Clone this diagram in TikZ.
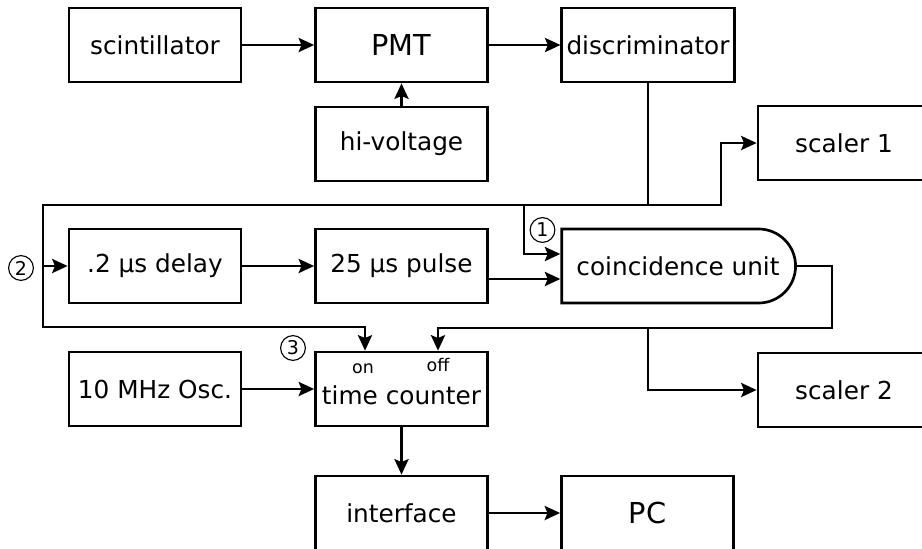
\documentclass[tikz,border=0pt]{standalone}
\usepackage{fontspec}
\setmainfont{DejaVu Sans}
\usetikzlibrary{arrows.meta, shapes.misc, calc}

\tikzset{
  block/.style={rectangle, draw, line width=1.9pt, minimum width=4.3cm, minimum height=1.85cm, font=\fontsize{17.6}{20}\selectfont},
  bigblock/.style={block, font=\fontsize{20.5}{23}\selectfont},
  gate/.style={rounded rectangle, rounded rectangle west arc=none, draw, line width=1.9pt, minimum width=6.08cm, minimum height=1.85cm, font=\fontsize{17.6}{20}\selectfont},
  wire/.style={line width=1.9pt},
  sig/.style={wire, -{Stealth[length=11pt, width=10pt, inset=2pt]}},
  numtag/.style={circle, draw, line width=0.8pt, minimum size=0.62cm, inner sep=0pt, font=\fontsize{13.5}{15}\selectfont},
  pinlabel/.style={font=\fontsize{12.4}{14}\selectfont, anchor=base, inner sep=0pt}
}

\begin{document}
\begin{tikzpicture}[x=0.025cm, y=-0.025cm]
\clip (0,0) rectangle (922,548);
% Blocks
\node[block] (scint) at (155,45) {scintillator};
\node[bigblock] (pmt) at (401.5,45) {PMT};
\node[block] (disc) at (648,45) {discriminator};
\node[block] (hv) at (401.5,144) {hi-voltage};
\node[block] (scaler1) at (844,143) {scaler 1};

\node[block] (delay) at (155,266) {.2 μs delay};
\node[block] (pulse) at (401.5,266) {25 μs pulse};
\node[gate] (coinc) at (678,266) {coincidence unit};

\node[block] (osc) at (155,389) {10 MHz Osc.};
\node[block] (tc) at (401.5,389) {};
\node[font=\fontsize{17.6}{20}\selectfont] (tctext) at ($(tc)+(0,6)$) {time counter};
\node[block] (scaler2) at (844,390) {scaler 2};

\node[block] (iface) at (401.5,513) {interface};
\node[bigblock] (pc) at (647.5,513) {PC};

% Small labels
\node[numtag] (mark1) at (542.5,230) {1};
\node[numtag] (mark2) at (21,268) {2};
\node[numtag] (mark3) at (293,348) {3};
\node[pinlabel] (onlabel) at (363,373) {on};
\node[pinlabel] (offlabel) at (438,371) {off};

% Junctions
\coordinate (tap1) at (648,205);
\coordinate (jog1) at (721,205);
\coordinate (tap3) at (524,205);
\coordinate (left1) at (43,205);
\coordinate (left2) at (43,327);
\coordinate (right1) at (832,266);
\coordinate (right2) at (832,328);
\coordinate (tap4) at (648,328);
\coordinate (onin) at ($(tc.north)+(-36.5,0)$);
\coordinate (offin) at ($(tc.north)+(36.5,0)$);

% Arrows
\draw[sig] (scint) -- (pmt);
\draw[sig] (pmt) -- (disc);
\draw[sig] (hv) -- (pmt);
\draw[wire] (disc) -- (tap1);
\draw[sig] (tap1) -- (jog1) |- (scaler1);
\draw[sig] (tap1) -- (left1) -- (left2) -| (onin);
\draw[sig] (left1 |- delay) -- (delay);
\draw[sig] (tap3) |- ($(coinc.west)+(0,-12)$);
\draw[sig] (delay) -- (pulse);
\draw[sig] ($(pulse.east)+(0,13)$) -- ($(coinc.west)+(0,13)$);
\draw[sig] (coinc.east) -- (right1) -- (right2) -| (offin);
\draw[sig] (tap4) |- (scaler2);
\draw[sig] (osc) -- (tc);
\draw[sig] (tc) -- (iface);
\draw[sig] (iface) -- (pc);
\end{tikzpicture}
\end{document}
